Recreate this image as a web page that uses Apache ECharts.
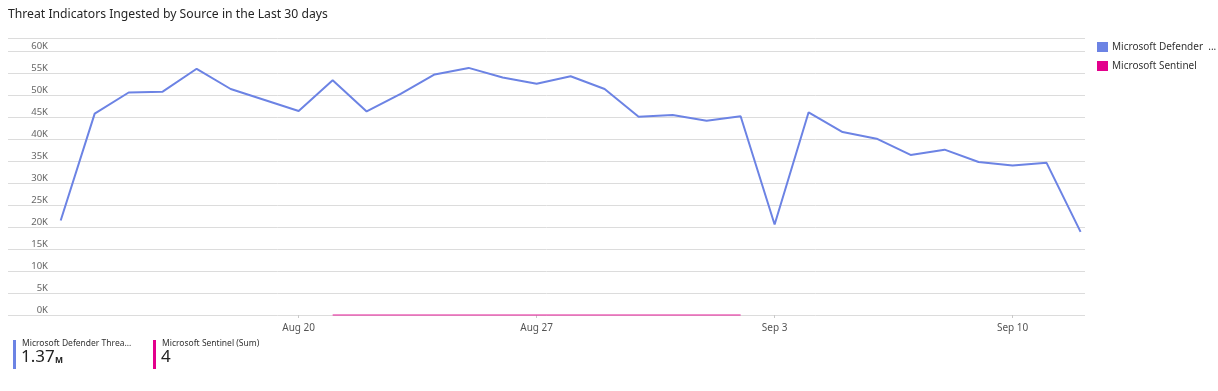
<!DOCTYPE html>
<html>
<head>
<meta charset="utf-8">
<script src="https://cdn.jsdelivr.net/npm/echarts@6/dist/echarts.min.js"></script>
<style>
html,body{margin:0;padding:0;background:#fff;}
#c{width:1218px;height:391px;}
</style>
</head>
<body>
<div id="c"></div>
<script>
const TITLE = 'Threat Indicators Ingested by Source in the Last 30 days';
const dates = ['Aug 13','Aug 14','Aug 15','Aug 16','Aug 17','Aug 18','Aug 19','Aug 20','Aug 21','Aug 22',
  'Aug 23','Aug 24','Aug 25','Aug 26','Aug 27','Aug 28','Aug 29','Aug 30','Aug 31','Sep 1',
  'Sep 2','Sep 3','Sep 4','Sep 5','Sep 6','Sep 7','Sep 8','Sep 9','Sep 10','Sep 11','Sep 12'];
const tickDates = ['Aug 20','Aug 27','Sep 3','Sep 10'];
const seriesNames = ['Microsoft Defender Threat Intelligence','Microsoft Sentinel'];
const defenderValues = [21500,45800,50600,50800,56000,51400,48900,46400,53400,46300,
  50300,54700,56200,54000,52600,54300,51400,45100,45500,44200,
  45200,20600,46100,41600,40100,36400,37600,34800,34000,34600,18900];
const sentinelDates = ['Aug 21','Aug 22','Aug 23','Aug 24','Aug 25','Aug 26','Aug 27','Aug 28','Aug 29','Aug 30','Aug 31','Sep 1','Sep 2'];
const sentinelValues = [0,0,1,0,0,1,0,0,1,0,0,1,0];
const yTicks = [0,5000,10000,15000,20000,25000,30000,35000,40000,45000,50000,55000,60000];

const BLUE = '#6C83E4';
const PINK = '#E3008C';
const FONT = '"Noto Sans", "Open Sans", sans-serif';

const defData = defenderValues.map((v,i)=>[i, v]);
const senData = sentinelValues.map((v,i)=>[dates.indexOf(sentinelDates[i]), v]);
const tickIdx = tickDates.map(d=>dates.indexOf(d));

function sum(a){return a.reduce((s,v)=>s+v,0);}
const defSum = (sum(defenderValues)/1e6).toFixed(2);
const senSum = String(sum(sentinelValues));

const chart = echarts.init(document.getElementById('c'), null, {renderer:'canvas'});
chart.setOption({
  animation:false,
  backgroundColor:'#fff',
  title:{text:TITLE,left:8,top:9,padding:0,textStyle:{fontFamily:FONT,fontSize:12.2,fontWeight:'normal',color:'#252525'}},
  grid:{left:8,right:133,top:38,bottom:76,outerBoundsMode:'none',containLabel:false},
  legend:{
    orient:'vertical',left:1097,top:42,padding:0,itemWidth:11,itemHeight:10,itemGap:9,icon:'rect',
    textStyle:{fontFamily:FONT,fontSize:10,color:'#333',width:106,overflow:'truncate',ellipsis:' ...',padding:[0,0,0,-1]},
    data:[{name:seriesNames[0],itemStyle:{color:BLUE}},{name:seriesNames[1],itemStyle:{color:PINK}}]
  },
  xAxis:{
    type:'value',min:-1.55,max:30.13,
    axisLine:{show:false},
    splitLine:{show:false},
    axisTick:{show:true,length:3,customValues:tickIdx,lineStyle:{color:'#c8c8c8'}},
    axisLabel:{customValues:tickIdx,margin:8,fontFamily:FONT,fontSize:10,color:'#555',
      formatter:v=>dates[Math.round(v)]}
  },
  yAxis:{
    type:'value',min:0,max:63000,interval:5000,
    axisLine:{show:false},axisTick:{show:false},
    splitLine:{show:true,lineStyle:{color:'#dcdcdc',width:1}},
    axisLabel:{inside:true,align:'right',verticalAlign:'bottom',margin:40,padding:[0,0,0,0],
      fontFamily:FONT,fontSize:9.5,color:'#666',showMaxLabel:false,
      formatter:v=>yTicks.includes(v)?(v/1000)+'K':''}
  },
  series:[
    {name:seriesNames[0],type:'line',data:defData,showSymbol:false,symbol:'none',
      color:BLUE,lineStyle:{color:BLUE,width:2},z:3},
    {name:seriesNames[1],type:'line',data:senData,showSymbol:false,symbol:'none',
      color:PINK,lineStyle:{color:PINK,width:2,opacity:0.45},z:2}
  ],
  graphic:[
    {type:'rect',left:13,top:340,shape:{width:3,height:29},style:{fill:BLUE}},
    {type:'text',left:22,top:339,style:{text:'Microsoft Defender Threa...',font:'8.5px '+FONT,fill:'#333'}},
    {type:'text',left:21,top:349,style:{text:defSum,font:'17px '+FONT,fill:'#222'}},
    {type:'text',left:55,top:356,style:{text:'M',font:'bold 8.5px '+FONT,fill:'#222'}},
    {type:'rect',left:153,top:340,shape:{width:3,height:29},style:{fill:PINK}},
    {type:'text',left:162,top:339,style:{text:seriesNames[1]+' (Sum)',font:'8.5px '+FONT,fill:'#333'}},
    {type:'text',left:161,top:349,style:{text:senSum,font:'17px '+FONT,fill:'#222'}}
  ]
});
</script>
</body>
</html>
